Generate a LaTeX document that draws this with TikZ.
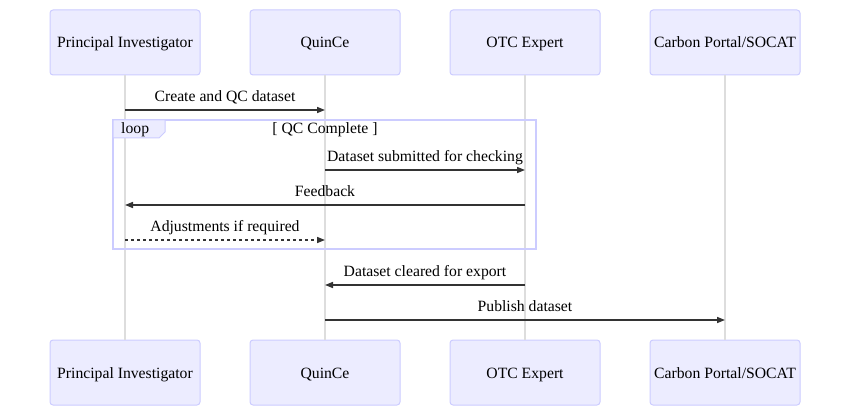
\documentclass[tikz,border=0pt]{standalone}
\usepackage{fontspec}
\setmainfont{Liberation Serif}
\usetikzlibrary{arrows.meta}
\definecolor{actfill}{HTML}{ECECFF}
\definecolor{actline}{HTML}{CCCCFF}
\definecolor{msgline}{HTML}{333333}
\definecolor{lifeline}{HTML}{DDDDDD}
\tikzset{
  actor/.style={draw=actline, fill=actfill, line width=1pt, rounded corners=3pt,
    minimum width=150pt, minimum height=65pt, inner sep=0pt, text height=14pt, text depth=3pt,
    font=\fontsize{15.7}{18}\selectfont},
  life/.style={draw=lifeline, line width=1.5pt},
  msg/.style={draw=msgline, line width=1.5pt, -{Triangle[length=8pt,width=6pt]}},
  dmsg/.style={msg, dash pattern=on 3pt off 3pt},
  lbl/.style={font=\fontsize{15.7}{18}\selectfont, inner sep=0pt, text=black, text height=11pt, text depth=3.5pt},
}
\begin{document}
\begin{tikzpicture}[x=1pt,y=-1pt]
\useasboundingbox (0,0) rectangle (850,406);
% actors
\foreach \n/\x/\t in {pi/125/Principal Investigator, qc/325/QuinCe, otc/525/OTC Expert, cp/725/{Carbon Portal/SOCAT}}{
  \node[actor] (\n t) at (\x,42.5) {\t};
  \node[actor] (\n b) at (\x,372.5) {\t};
  \draw[life] (\n t.south) -- (\n b.north);
}
% coordinates
\coordinate (pi1) at (125,110); \coordinate (qc1) at (325,110);
\coordinate (qc2) at (325,170); \coordinate (otc2) at (525,170);
\coordinate (otc3) at (525,205); \coordinate (pi3) at (125,205);
\coordinate (pi4) at (125,240); \coordinate (qc4) at (325,240);
\coordinate (otc5) at (525,285); \coordinate (qc5) at (325,285);
\coordinate (qc6) at (325,320); \coordinate (cp6) at (725,320);
% loop
\draw[actline, line width=1.5pt] (113,120) rectangle (536,249);
\draw[actline, fill=actfill, line width=1pt] (113,120) -- (165,120) -- (165,132) -- (159,138) -- (113,138) -- cycle;
\node[lbl, anchor=west] (looplbl) at (121,129.5) {loop};
\node[lbl] (cond) at (325,129.5) {[ QC Complete ]};
% messages
\draw[msg] (pi1) -- (qc1) node[lbl, midway, above=4.5pt] (m1) {Create and QC dataset};
\draw[msg] (qc2) -- (otc2) node[lbl, midway, above=4.5pt] (m2) {Dataset submitted for checking};
\draw[msg] (otc3) -- (pi3) node[lbl, midway, above=4.5pt] (m3) {Feedback};
\draw[dmsg] (pi4) -- (qc4) node[lbl, midway, above=4.5pt] (m4) {Adjustments if required};
\draw[msg] (otc5) -- (qc5) node[lbl, midway, above=4.5pt] (m5) {Dataset cleared for export};
\draw[msg] (qc6) -- (cp6) node[lbl, midway, above=4.5pt] (m6) {Publish dataset};
\end{tikzpicture}
\end{document}
